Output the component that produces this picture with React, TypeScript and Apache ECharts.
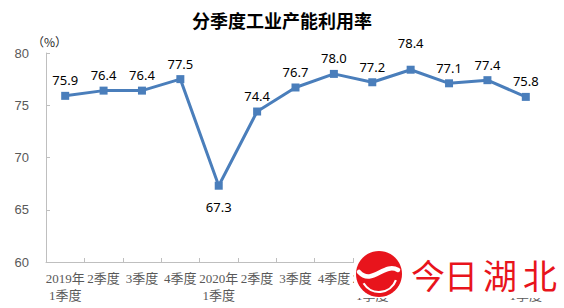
import React, { useEffect, useRef } from "react";
import * as echarts from "echarts";

const categories = [
  "2019年\n1季度", "2季度", "3季度", "4季度",
  "2020年\n1季度", "2季度", "3季度", "4季度",
  "2021年\n1季度", "2季度", "3季度", "4季度",
  "2022年\n1季度",
];
const utilization = [75.9, 76.4, 76.4, 77.5, 67.3, 74.4, 76.7, 78.0, 77.2, 78.4, 77.1, 77.4, 75.8];
const yTicks = { min: 60, max: 80, interval: 5 };
const titleText = "分季度工业产能利用率";
const unitText = "（%）";
const watermarkChars = ["今", "日", "湖", "北"];

const RED = "#e8141c";

export default function App() {
  const ref = useRef<HTMLDivElement>(null);
  useEffect(() => {
    if (!ref.current) return;
    const chart = echarts.init(ref.current, null, { renderer: "svg" });
    const minIdx = utilization.indexOf(Math.min(...utilization));
    const maxIdx = utilization.indexOf(Math.max(...utilization));
    const data = utilization.map((v, i) => {
      if (i === minIdx) return { value: v, label: { position: "bottom", distance: 11 } };
      if (i === maxIdx) return { value: v, label: { position: "top", distance: 16 } };
      return { value: v };
    });
    const charX = [428, 461, 500, 540];
    chart.setOption({
      animation: false,
      backgroundColor: "#ffffff",
      title: {
        text: titleText,
        left: "center",
        top: 6,
        textStyle: {
          fontFamily: "Noto Sans CJK SC",
          fontSize: 18,
          fontWeight: "bold",
          color: "#000000",
        },
      },
      grid: { left: 46, right: 19, top: 53, bottom: 46, containLabel: false },
      xAxis: {
        type: "category",
        data: categories,
        boundaryGap: true,
        axisLine: { show: true, lineStyle: { color: "#bfbfbf", width: 1 } },
        axisTick: { show: true, inside: true, length: 4, lineStyle: { color: "#bfbfbf" } },
        axisLabel: {
          interval: 0,
          margin: 8,
          color: "#595959",
          fontSize: 13,
          lineHeight: 17,
          fontFamily: "Liberation Serif, Noto Sans CJK SC",
        },
        splitLine: { show: false },
      },
      yAxis: {
        type: "value",
        min: yTicks.min,
        max: yTicks.max,
        interval: yTicks.interval,
        axisLine: { show: true, lineStyle: { color: "#bfbfbf", width: 1 } },
        axisTick: { show: true, inside: true, length: 4, lineStyle: { color: "#bfbfbf" } },
        axisLabel: {
          margin: 17,
          color: "#595959",
          fontSize: 13,
          fontFamily: "Liberation Sans",
        },
        splitLine: { show: false },
      },
      series: [
        {
          type: "line",
          data,
          symbol: "rect",
          symbolSize: 8,
          lineStyle: { color: "#4a7ebb", width: 3 },
          itemStyle: { color: "#4a7ebb" },
          label: {
            show: true,
            position: "top",
            distance: 5,
            color: "#000000",
            fontSize: 13,
            fontFamily: "Noto Sans",
            formatter: (p: any) => Number(p.value).toFixed(1),
          },
        },
      ],
      graphic: [
        {
          type: "text",
          left: 32,
          top: 35,
          style: {
            text: unitText,
            fontSize: 12,
            fontFamily: "Noto Sans CJK SC",
            fill: "#262626",
          },
        },
        {
          type: "rect",
          shape: { x: 354, y: 252, width: 210, height: 46 },
          style: { fill: "#ffffff" },
          z: 100,
        },
        {
          type: "circle",
          shape: { cx: 379, cy: 274, r: 23 },
          style: { fill: RED },
          z: 101,
        },
        {
          type: "arc",
          shape: { cx: 379, cy: 274, r: 18, startAngle: 0.35, endAngle: 2.6 },
          style: { stroke: "#ffffff", lineWidth: 2.2, fill: null },
          z: 102,
        },
        {
          type: "bezierCurve",
          shape: { x1: 359, y1: 272, cpx1: 372, cpy1: 286, cpx2: 384, cpy2: 262, x2: 398, y2: 270 },
          style: { stroke: "#ffffff", lineWidth: 4.5, fill: null, lineCap: "round" },
          z: 102,
        },
        ...watermarkChars.map((c, i) => ({
          type: "text",
          x: charX[i],
          y: 274,
          style: {
            text: c,
            fontSize: 34,
            fontWeight: "normal",
            fontFamily: "Noto Sans CJK SC",
            fill: RED,
            align: "center",
            verticalAlign: "middle",
          },
          z: 101,
        })),
      ],
    });
    return () => chart.dispose();
  }, []);
  return (
    <div
      ref={ref}
      style={{ position: "fixed", left: 0, top: 0, width: 564, height: 308 }}
    />
  );
}
